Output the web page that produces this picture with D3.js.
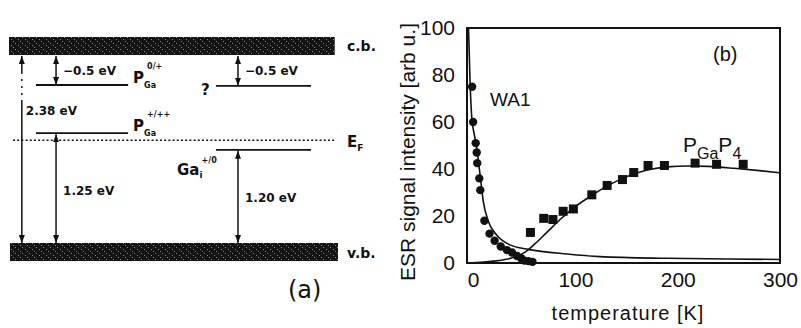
<!DOCTYPE html>
<html>
<head>
<meta charset="utf-8">
<script src="https://cdn.jsdelivr.net/npm/d3@7/dist/d3.min.js"></script>
<style>
  body{margin:0;background:#fff}
  svg{display:block}
  .diag text{font-family:"DejaVu Sans",sans-serif;font-weight:bold;fill:#111}
  .diag text.plain{font-weight:normal}
  .plot text{font-family:"Liberation Sans",Arial,sans-serif;fill:#111}
  .plot .tick text{font-family:"Liberation Sans Narrow","Arial Narrow","Liberation Sans",sans-serif}
</style>
</head>
<body>
<svg width="801" height="328"></svg>
<script>
// ---- (a) level scheme, energies in eV above the v.b. edge (as drawn)
const gap = 2.38
const bandNames = ["c.b.", "v.b."]
const levelNames = ["P0/+", "?", "P+/++", "Ga+/0"]
const levelEnergy = [2.0, 1.99, 1.39, 1.18]
const levelSide = [0, 1, 0, 1]
const fermiEnergy = 1.30
const arrowCol = [0, 1, 2, 1, 2]
const arrowFrom = [0, 2.0, 1.99, 0, 0]
const arrowTo = [gap, gap, gap, 1.39, 1.18]
const arrowLabels = ["2.38 eV", "\u22120.5 eV", "\u22120.5 eV", "1.25 eV", "1.20 eV"]
const arrowLabelE = [1.62, 2.13, 2.13, 0.61, 0.52]

// ---- (b) ESR signal vs temperature
const xTicks = [0, 100, 200, 300]
const yTicks = [0, 20, 40, 60, 80, 100]
const wa1T = [-1, 0, 2.5, 3.5, 4, 6, 7, 11, 16, 21, 27, 33, 38, 43, 47, 50, 54, 58]
const wa1V = [75, 60, 51, 47, 42.5, 36, 31, 18, 12.5, 9.5, 7, 5.5, 4.5, 3, 2, 1, 0.8, 0.5]
const pgaT = [56, 69, 78, 88, 98, 116, 131, 146, 157, 171, 187, 217, 238, 264]
const pgaV = [13, 19, 18.5, 22, 23, 29, 33, 35.5, 38.5, 41.5, 41.5, 42.5, 42, 42]
const wa1FitT = [-4.6, -3, -1.3, 1, 3.6, 6.8, 10, 15, 23, 36, 54, 92, 124, 189, 250, 300]
const wa1FitV = [101, 77, 61.6, 55, 48.8, 37.4, 26, 17.6, 11.9, 7.7, 5.8, 3.8, 2.7, 2, 1.7, 1.5]
const pgaFitT = [-6, 10, 20, 30, 40, 50, 60, 72, 85, 100, 115, 130, 145, 160, 175, 190, 210, 230, 255, 280, 300]
const pgaFitV = [0, 0.4, 0.8, 1.4, 2.4, 4.4, 8, 13, 18.5, 24, 28.5, 32.5, 35.8, 38.3, 40, 40.9, 41.3, 41.1, 40.3, 39.3, 38.4]

const svg = d3.select("svg")
const defs = svg.append("defs")

// speckled band texture
const pat = defs.append("pattern").attr("id", "grain")
  .attr("width", 7).attr("height", 6).attr("patternUnits", "userSpaceOnUse")
pat.append("rect").attr("width", 7).attr("height", 6).attr("fill", "#141414")
const specks = [[1, 1], [4, 3], [6, 5]]
specks.forEach(p => {
  pat.append("rect").attr("x", p[0]).attr("y", p[1]).attr("width", 1).attr("height", 1).attr("fill", "#8a8a8a")
})

defs.append("marker").attr("id", "ah")
  .attr("viewBox", "0 0 8 6").attr("refX", 8).attr("refY", 3)
  .attr("markerUnits", "userSpaceOnUse").attr("markerWidth", 8).attr("markerHeight", 6)
  .attr("orient", "auto-start-reverse")
  .append("path").attr("d", "M0,0L8,3L0,6Z").attr("fill", "#111")

// ---------- panel (a)
const yE = d3.scaleLinear().domain([0, gap]).range([243, 55])
const xD = d3.scaleLinear().domain([0, 100]).range([9, 338])
const levelX = [[8.2, 36.2], [62.9, 91.8]]
const arrowColX = [3.9, 14.3, 69.6]
const diag = svg.append("g").attr("class", "diag")

const bandH = 18
diag.selectAll("rect.band").data([gap, 0]).join("rect")
  .attr("class", "band")
  .attr("x", (d, i) => xD(i ? 0.3 : 0))
  .attr("y", d => d === gap ? yE(d) - bandH : yE(d))
  .attr("width", (d, i) => xD(i ? 100 : 99) - xD(i ? 0.3 : 0))
  .attr("height", bandH)
  .attr("fill", "url(#grain)")
diag.selectAll("text.bname").data(bandNames).join("text")
  .attr("class", "bname")
  .attr("x", xD(100) + 9)
  .attr("y", (d, i) => i ? yE(0) + 15 : yE(gap) - 4)
  .attr("font-size", 14)
  .text(d => d)

// Fermi level
diag.append("line")
  .attr("x1", xD(1.2)).attr("x2", xD(99.5))
  .attr("y1", yE(fermiEnergy)).attr("y2", yE(fermiEnergy))
  .attr("stroke", "#111").attr("stroke-width", 1.6).attr("stroke-dasharray", "2 2.2")
const ef = diag.append("text").attr("x", xD(100) + 9).attr("y", yE(fermiEnergy) + 7).attr("font-size", 15)
ef.append("tspan").text("E")
ef.append("tspan").attr("font-size", 9).attr("dy", 4).text("F")

// defect levels
diag.selectAll("line.lev").data(levelEnergy).join("line")
  .attr("class", "lev")
  .attr("x1", (d, i) => xD(levelX[levelSide[i]][0]))
  .attr("x2", (d, i) => xD(levelX[levelSide[i]][1]))
  .attr("y1", d => yE(d)).attr("y2", d => yE(d))
  .attr("stroke", "#111").attr("stroke-width", 1.8)

function pLabel(e, sup) {
  const t = diag.append("text").attr("x", xD(levelX[0][1]) + 5).attr("y", yE(e) - 2).attr("font-size", 15)
  t.append("tspan").text("P")
  t.append("tspan").attr("font-size", 8).attr("dy", 5).text("Ga")
  t.append("tspan").attr("font-size", 8).attr("dx", -9).attr("dy", -19).text(sup)
}
pLabel(levelEnergy[0], "0/+")
pLabel(levelEnergy[2], "+/++")
diag.append("text").attr("x", xD(levelX[1][0]) - 15).attr("y", yE(levelEnergy[1]) + 9)
  .attr("font-size", 15).text("?")
const ga = diag.append("text").attr("x", 177).attr("y", yE(levelEnergy[3]) + 25).attr("font-size", 15)
ga.append("tspan").text("Ga")
ga.append("tspan").attr("font-size", 9).attr("dy", 3).text("i")
ga.append("tspan").attr("font-size", 8).attr("dx", -1).attr("dy", -15).text("+/0")

// arrows
diag.selectAll("line.arr").data(arrowFrom).join("line")
  .attr("class", "arr")
  .attr("x1", (d, i) => xD(arrowColX[arrowCol[i]]))
  .attr("x2", (d, i) => xD(arrowColX[arrowCol[i]]))
  .attr("y1", d => yE(d)).attr("y2", (d, i) => yE(arrowTo[i]) + 1)
  .attr("stroke", "#111").attr("stroke-width", 1.5)
  .attr("stroke-dasharray", (d, i) => i === 0 ? "143 5 2 5 2 5 2 5 200" : null)
  .attr("marker-start", "url(#ah)").attr("marker-end", "url(#ah)")
diag.selectAll("text.alab").data(arrowLabels).join("text")
  .attr("class", "alab")
  .attr("x", (d, i) => xD(arrowColX[arrowCol[i]]) + (i === 0 ? 4 : 7))
  .attr("y", (d, i) => yE(arrowLabelE[i]))
  .attr("font-size", 12)
  .text(d => d)
diag.append("text").attr("class", "plain").attr("x", 288).attr("y", 298).attr("font-size", 24)
  .text("(a)")

// ---------- panel (b)
const x = d3.scaleLinear().domain([-6, 300]).range([467, 780])
const y = d3.scaleLinear().domain([0, 100]).range([263, 28])
const plot = svg.append("g").attr("class", "plot")

plot.append("defs").append("clipPath").attr("id", "clip")
  .append("rect").attr("x", x(-6)).attr("y", y(100))
  .attr("width", x(300) - x(-6)).attr("height", y(0) - y(100))

const xAxis = plot.append("g").attr("transform", `translate(0,${y(0)})`)
  .call(d3.axisBottom(x).tickValues(xTicks).tickSize(0).tickPadding(9))
const yAxis = plot.append("g").attr("transform", `translate(${x(-6)},0)`)
  .call(d3.axisLeft(y).tickValues(yTicks).tickSize(0).tickPadding(12))
;[xAxis, yAxis].forEach(a => {
  a.select(".domain").remove()
  a.attr("font-family", null)
  a.selectAll("text").attr("font-size", 21).attr("fill", "#111")
})

const line = d3.line().x(d => x(d[0])).y(d => y(d[1])).curve(d3.curveMonotoneX)
const fits = [d3.zip(wa1FitT, wa1FitV), d3.zip(pgaFitT, pgaFitV)]
plot.append("g").attr("clip-path", "url(#clip)")
  .selectAll("path").data(fits).join("path")
  .attr("d", line).attr("fill", "none").attr("stroke", "#111").attr("stroke-width", 1.6)

plot.append("g").selectAll("circle").data(d3.zip(wa1T, wa1V)).join("circle")
  .attr("cx", d => x(d[0])).attr("cy", d => y(d[1])).attr("r", 4.2).attr("fill", "#111")
const sq = 9
plot.append("g").selectAll("rect").data(d3.zip(pgaT, pgaV)).join("rect")
  .attr("x", d => x(d[0]) - sq / 2).attr("y", d => y(d[1]) - sq / 2)
  .attr("width", sq).attr("height", sq).attr("fill", "#111")

plot.append("rect")
  .attr("x", x(-6)).attr("y", y(100))
  .attr("width", x(300) - x(-6)).attr("height", y(0) - y(100))
  .attr("fill", "none").attr("stroke", "#111").attr("stroke-width", 2)

plot.append("text").attr("x", 490).attr("y", y(70) + 7).attr("font-size", 19).text("WA1")
plot.append("text").attr("x", 713).attr("y", 61).attr("font-size", 20).text("(b)")
const pg = plot.append("text").attr("x", 683).attr("y", 152).attr("font-size", 21)
pg.append("tspan").text("P")
pg.append("tspan").attr("font-size", 16).attr("dy", 7).text("Ga")
pg.append("tspan").attr("dy", -7).text("P")
pg.append("tspan").attr("font-size", 16).attr("dy", 7).text("4")

plot.append("text").attr("transform", "translate(415,152) rotate(-90)")
  .attr("text-anchor", "middle").attr("font-size", 21)
  .text("ESR signal intensity [arb u.]")
plot.append("text").attr("x", 628).attr("y", 320)
  .attr("text-anchor", "middle").attr("font-size", 20).attr("letter-spacing", 1)
  .text("temperature [K]")
</script>
</body>
</html>
